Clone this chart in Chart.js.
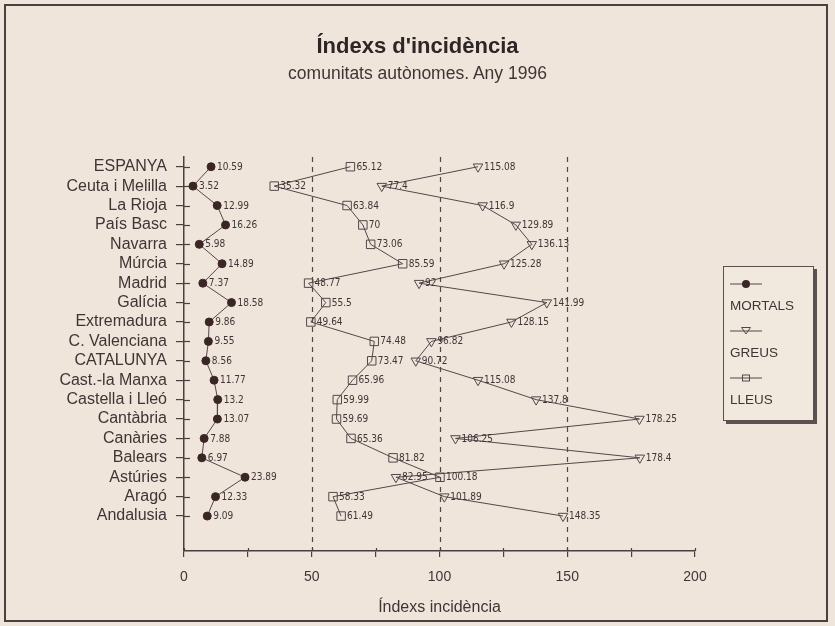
<!DOCTYPE html>
<html>
<head>
<meta charset="utf-8">
<title>Índexs d'incidència</title>
<script src="https://cdn.jsdelivr.net/npm/chart.js@4/dist/chart.umd.min.js"></script>
<style>
  html, body { margin: 0; padding: 0; background: #efe5db; }
  #wrap { position: relative; width: 835px; height: 626px; overflow: hidden; }
  #frame { position: absolute; left: 4px; top: 4px; width: 820px; height: 614px;
           border: 2px solid #4a4242; }
  canvas { position: absolute; left: 0; top: 0; }
  .head { position: absolute; left: 0; width: 835px; text-align: center;
          font-family: "Liberation Sans", Arial, sans-serif; white-space: nowrap; }
  #title { top: 33px; font-size: 22px; line-height: 26px; font-weight: bold; color: #2e2626; }
  #subtitle { top: 63px; font-size: 17.5px; line-height: 20px; color: #3f3535; }
  #legend { position: absolute; left: 723px; top: 266px; width: 89px; height: 153px;
            border: 1px solid #5a5050; box-shadow: 3px 3px 0 #5e5050; background: #f1e8de;
            font-family: "Liberation Sans", Arial, sans-serif; font-size: 13.5px; color: #3f3535; }
  #legend .sym { position: absolute; left: 6px; width: 32px; height: 12px; }
  #legend .lab { position: absolute; left: 6px; line-height: 16px; }
</style>
</head>
<body>
<div id="wrap">
  <div id="frame"></div>
  <canvas id="chart" width="835" height="626"></canvas>
  <div class="head" id="title">Índexs d'incidència</div>
  <div class="head" id="subtitle">comunitats autònomes. Any 1996</div>
  <div id="legend"></div>
</div>
<script>
/* Índexs d'incidència - comunitats autònomes 1996 */

const CATEGORIES = [
  "ESPANYA", "Ceuta i Melilla", "La Rioja", "País Basc", "Navarra", "Múrcia",
  "Madrid", "Galícia", "Extremadura", "C. Valenciana", "CATALUNYA",
  "Cast.-la Manxa", "Castella i Lleó", "Cantàbria", "Canàries", "Balears",
  "Astúries", "Aragó", "Andalusia",
];

const MORTALS = [10.59, 3.52, 12.99, 16.26, 5.98, 14.89, 7.37, 18.58, 9.86, 9.55,
  8.56, 11.77, 13.2, 13.07, 7.88, 6.97, 23.89, 12.33, 9.09];

const GREUS = [115.08, 77.4, 116.90, 129.89, 136.13, 125.28, 92, 141.99, 128.15, 96.82,
  90.72, 115.08, 137.80, 178.25, 106.25, 178.4, 82.95, 101.89, 148.35];

const LLEUS = [65.12, 35.32, 63.84, 70, 73.06, 85.59, 48.77, 55.5, 49.64, 74.48,
  73.47, 65.96, 59.99, 59.69, 65.36, 81.82, 100.18, 58.33, 61.49];

const X_TICKS_LABELLED = [0, 50, 100, 150, 200];
const REF_LINES = [50, 100, 150];

const INK = "#3f3535";
const LINE = "#54474a";
const FONT = '"Liberation Sans", Arial, sans-serif';
const NARROW = '"Liberation Sans Narrow", "DejaVu Sans Condensed", sans-serif';

/* ── Legend (HTML) ───────────────────────────────────── */
const LEGEND = [
  { label: "MORTALS", sym: '<circle cx="16" cy="6" r="4" fill="#3b2626"/>' },
  { label: "GREUS", sym: '<path d="M11.5 2.5 L20.5 2.5 L16 9 Z" fill="none" stroke="#54474a"/>' },
  { label: "LLEUS", sym: '<rect x="12.5" y="3" width="7" height="6" fill="none" stroke="#54474a"/>' },
];

function renderLegend() {
  const box = document.getElementById("legend");
  LEGEND.forEach((it, i) => {
    const top = 11 + i * 47;
    box.innerHTML += `
      <svg class="sym" style="top:${top}px" viewBox="0 0 32 12">
        <line x1="0" y1="6" x2="32" y2="6" stroke="#54474a" stroke-width="1"/>${it.sym}
      </svg>
      <div class="lab" style="top:${top + 20}px">${it.label}</div>`;
  });
}

/* ── Plugins ─────────────────────────────────────────── */
const extras = {
  id: "extras",
  beforeDatasetsDraw(chart) {
    const { ctx, chartArea, scales: { x, y } } = chart;
    ctx.save();
    ctx.strokeStyle = LINE;
    ctx.lineWidth = 1.2;
    ctx.setLineDash([5, 5]);
    REF_LINES.forEach((v) => {
      const px = Math.round(x.getPixelForValue(v)) + 0.5;
      ctx.beginPath();
      ctx.moveTo(px, chartArea.top);
      ctx.lineTo(px, chartArea.bottom);
      ctx.stroke();
    });
    ctx.setLineDash([]);
    // ticks crossing the axes
    ctx.strokeStyle = "#4a4040";
    ctx.lineWidth = 1.2;
    CATEGORIES.forEach((_, i) => {
      const py = Math.round(y.getPixelForValue(i)) + 0.5;
      ctx.beginPath();
      ctx.moveTo(chartArea.left, py);
      ctx.lineTo(chartArea.left + 6, py);
      ctx.stroke();
    });
    for (let v = 0; v <= 200; v += 25) {
      const px = Math.round(x.getPixelForValue(v)) + 0.5;
      ctx.beginPath();
      ctx.moveTo(px, chartArea.bottom);
      ctx.lineTo(px, chartArea.bottom - 3);
      ctx.stroke();
    }
    ctx.restore();
  },
  afterDatasetsDraw(chart) {
    const { ctx } = chart;
    ctx.save();
    ctx.fillStyle = INK;
    ctx.font = `10px ${NARROW}`;
    ctx.textBaseline = "middle";
    chart.data.datasets.forEach((ds, di) => {
      const meta = chart.getDatasetMeta(di);
      meta.data.forEach((pt, i) => {
        ctx.fillText(String(ds.values[i]), pt.x + 6, pt.y + 0.5);
      });
    });
    ctx.restore();
  },
};

/* ── Chart ───────────────────────────────────────────── */
const toPoints = (vals) => vals.map((v, i) => ({ x: v, y: i }));

const dataset = (label, vals, style, radius, fill) => ({
  label,
  values: vals,
  data: toPoints(vals),
  showLine: true,
  borderColor: LINE,
  borderWidth: 1,
  pointStyle: style,
  pointRadius: radius,
  pointBorderWidth: 1,
  pointBorderColor: fill ? "#3b2626" : LINE,
  pointBackgroundColor: fill ? "#3b2626" : "rgba(0,0,0,0)",
  pointRotation: style === "triangle" ? 180 : 0,
});

renderLegend();

new Chart(document.getElementById("chart"), {
  type: "scatter",
  data: {
    datasets: [
      dataset("MORTALS", MORTALS, "circle", 4, true),
      dataset("GREUS", GREUS, "triangle", 5.5, false),
      dataset("LLEUS", LLEUS, "rect", 6, false),
    ],
  },
  options: {
    responsive: false,
    animation: false,
    layout: { padding: { left: 14, right: 140, top: 157, bottom: 5 } },
    plugins: {
      legend: { display: false },
      tooltip: { enabled: false },
    },
    scales: {
      x: {
        type: "linear",
        min: 0,
        max: 200,
        afterBuildTicks: (s) => {
          s.ticks = [];
          for (let v = 0; v <= 200; v += 25) s.ticks.push({ value: v });
        },
        ticks: {
          callback: (v) => (X_TICKS_LABELLED.includes(v) ? String(v) : ""),
          color: INK,
          font: { family: FONT, size: 14 },
          padding: 12,
          maxRotation: 0,
          autoSkip: false,
        },
        grid: { drawOnChartArea: false, tickLength: 6, color: "#4a4040", lineWidth: 1.2 },
        border: { color: "#4a4040", width: 1.5 },
        title: {
          display: true,
          text: "Índexs incidència",
          color: INK,
          font: { family: FONT, size: 16 },
          padding: { top: 4, bottom: 4 },
        },
        afterFit: (s) => { s.height = 70; },
      },
      y: {
        type: "linear",
        reverse: true,
        min: -0.5,
        max: 19.8,
        afterBuildTicks: (s) => { s.ticks = CATEGORIES.map((_, i) => ({ value: i })); },
        ticks: {
          callback: (v) => CATEGORIES[v],
          color: INK,
          font: { family: FONT, size: 16 },
          padding: 9,
          autoSkip: false,
        },
        grid: { drawOnChartArea: false, tickLength: 8, color: "#4a4040", lineWidth: 1.2 },
        border: { color: "#4a4040", width: 1.5 },
        afterFit: (s) => { s.width = 170; },
      },
    },
  },
  plugins: [extras],
});
</script>
</body>
</html>
